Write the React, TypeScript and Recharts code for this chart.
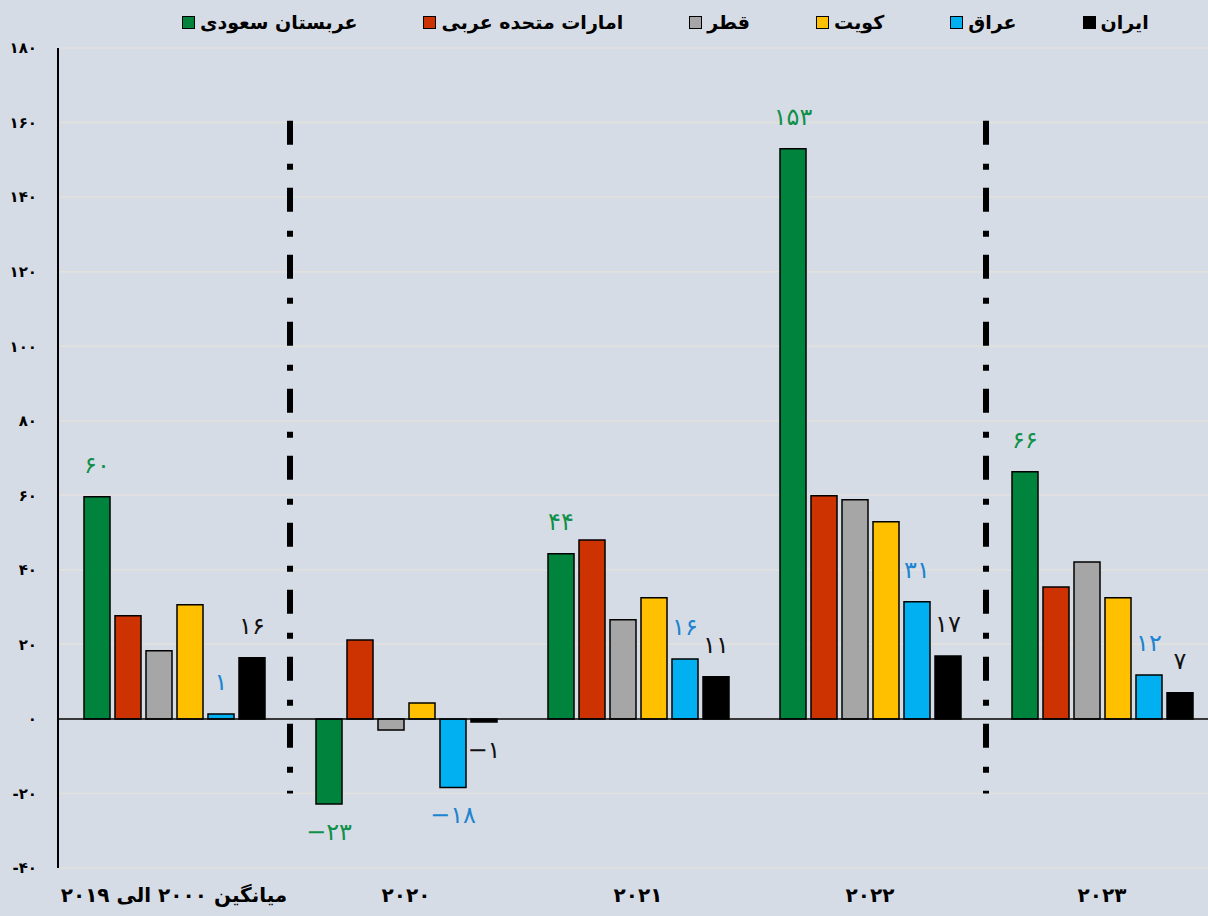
import React from 'react';
import { BarChart, Bar, XAxis, YAxis, CartesianGrid, ReferenceLine, LabelList } from 'recharts';

const categories = ['میانگین ۲۰۰۰ الی ۲۰۱۹', '۲۰۲۰', '۲۰۲۱', '۲۰۲۲', '۲۰۲۳'];
const saudi = [59.6, -22.8, 44.3, 153, 66.3];
const uae = [27.7, 21.2, 48, 59.9, 35.4];
const qatar = [18.3, -3, 26.6, 58.8, 42.1];
const kuwait = [30.6, 4.3, 32.5, 52.9, 32.5];
const iraq = [1.3, -18.4, 16.1, 31.4, 11.8];
const iran = [16.4, -0.8, 11.3, 16.9, 7];
const yTicks = [-40, -20, 0, 20, 40, 60, 80, 100, 120, 140, 160, 180];
const dividerCategories = [categories[1], categories[4]];

const seriesNames = ['عربستان سعودی', 'امارات متحده عربی', 'قطر', 'کویت', 'عراق', 'ایران'];
const seriesKeys = ['saudi', 'uae', 'qatar', 'kuwait', 'iraq', 'iran'];
const seriesColors = ['#00843d', '#cc3300', '#a6a6a6', '#ffc000', '#00b0f0', '#000000'];
const labelColors: Record<string, string | null> = {
  saudi: '#10904a',
  uae: null,
  qatar: null,
  kuwait: null,
  iraq: '#1c84d0',
  iran: '#111111',
};

const seriesValues = [saudi, uae, qatar, kuwait, iraq, iran];
const data = categories.map((c, i) => {
  const row: Record<string, string | number> = { name: c };
  seriesKeys.forEach((k, j) => {
    row[k] = seriesValues[j][i];
  });
  return row;
});

const FA = '۰۱۲۳۴۵۶۷۸۹';
const toFa = (n: number) => {
  const s = String(Math.abs(n)).replace(/\d/g, (d) => FA[Number(d)]);
  return n < 0 ? '-' + s : s;
};
const toFaLabel = (n: number) => {
  const r = Math.round(n);
  const s = String(Math.abs(r)).replace(/\d/g, (d) => FA[Number(d)]);
  return r < 0 ? '−' + s : s;
};

const FONT = '"DejaVu Sans", sans-serif';

const makeLabel = (color: string) => (props: any) => {
  const { x, y, width, height, value } = props;
  const top = Math.min(y, y + height);
  const bottom = Math.max(y, y + height);
  const ly = value >= 0 ? top - 32 : bottom + 28;
  return (
    <text
      x={x + width / 2}
      y={ly}
      textAnchor="middle"
      dominantBaseline="central"
      fill={color}
      fontSize={24}
      fontFamily={FONT}
    >
      {toFaLabel(value)}
    </text>
  );
};

const Legend = () => (
  <div
    style={{
      position: 'absolute',
      top: 0,
      left: 0,
      width: 1208,
      height: 44,
      display: 'flex',
      alignItems: 'center',
      paddingLeft: 182,
      boxSizing: 'border-box',
      gap: 66,
      fontFamily: FONT,
      fontWeight: 'bold',
      fontSize: 19,
      color: '#000',
    }}
  >
    {seriesNames.map((n, i) => (
      <div key={n} style={{ display: 'flex', alignItems: 'center', gap: 5 }}>
        <span
          style={{
            display: 'inline-block',
            width: 11,
            height: 11,
            background: seriesColors[i],
            border: '1.5px solid #000',
          }}
        />
        <span style={{ direction: 'rtl' }}>{n}</span>
      </div>
    ))}
  </div>
);

export default function App() {
  return (
    <div
      style={{
        position: 'absolute',
        left: 0,
        top: 0,
        width: 1208,
        height: 916,
        overflow: 'hidden',
        background: '#d6dce5',
      }}
    >
      <BarChart
        width={1220}
        height={916}
        data={data}
        margin={{ top: 48, right: 2, bottom: 0, left: 0 }}
        barSize={26}
        barGap={5}
      >
        <CartesianGrid horizontal vertical={false} stroke="#e3e1dd" strokeWidth={1.5} />
        <XAxis
          dataKey="name"
          axisLine={false}
          tickLine={false}
          height={48}
          tickMargin={14}
          interval={0}
          tick={{ fill: '#000', fontSize: 20, fontWeight: 'bold', fontFamily: FONT }}
        />
        <YAxis
          domain={[-40, 180]}
          ticks={yTicks}
          interval={0}
          width={58}
          tickFormatter={toFa}
          axisLine={{ stroke: '#000', strokeWidth: 2 }}
          tickLine={false}
          tickSize={0}
          tickMargin={21}
          tick={{ fill: '#000', fontSize: 15, fontWeight: 'bold', fontFamily: FONT }}
        />
        {seriesKeys.map((k, i) => (
          <Bar
            key={k}
            dataKey={k}
            name={seriesNames[i]}
            fill={seriesColors[i]}
            stroke="#000"
            strokeWidth={1.5}
            isAnimationActive={false}
          >
            {labelColors[k] ? <LabelList dataKey={k} content={makeLabel(labelColors[k] as string)} /> : null}
          </Bar>
        ))}
        <ReferenceLine y={0} stroke="#000" strokeWidth={1.5} />
        {dividerCategories.map((c) => (
          <ReferenceLine
            key={c}
            segment={[
              { x: c, y: 160.5 },
              { x: c, y: -20 },
            ]}
            position="start"
            stroke="#000"
            strokeWidth={6}
            strokeDasharray="24 19 6 18"
          />
        ))}
      </BarChart>
      <Legend />
    </div>
  );
}
